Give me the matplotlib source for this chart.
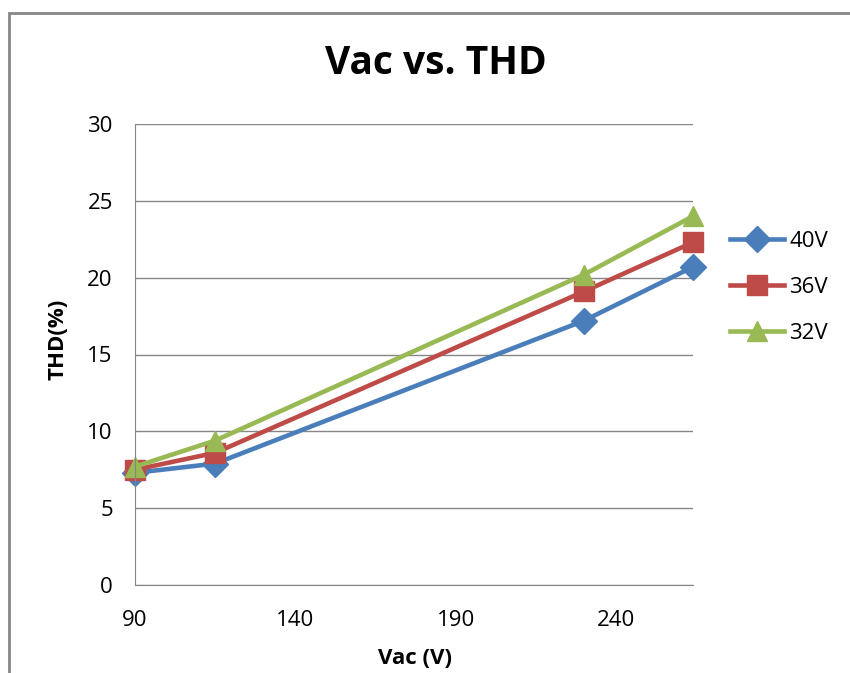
import matplotlib
matplotlib.use("Agg")
import matplotlib.pyplot as plt
from matplotlib.patches import Rectangle

# data
vac = [90, 115, 230, 264]
thd_40v = [7.3, 7.9, 17.2, 20.7]
thd_36v = [7.5, 8.6, 19.1, 22.3]
thd_32v = [7.7, 9.4, 20.2, 24.0]
series_labels = ["40V", "36V", "32V"]
x_ticks = [90, 140, 190, 240]
y_ticks = [0, 5, 10, 15, 20, 25, 30]

plt.rcParams['font.family'] = ['Open Sans', 'DejaVu Sans']

W, H = 850, 673
fig = plt.figure(figsize=(W / 100, H / 100), dpi=100)

# rámeček grafu (styl Excelu), vpravo a dole oříznutý
fig.patches.append(Rectangle((9 / W, -0.1), 1.2, 1 - 13 / H + 0.1,
                             transform=fig.transFigure, fill=False,
                             edgecolor='#868686', lw=2))

left, right, top, bottom = 135, 693, 124, 585
ax = fig.add_axes([left / W, 1 - bottom / H, (right - left) / W, (bottom - top) / H])

styles = [('#4A7EBB', 'D', 13), ('#BE4B48', 's', 14), ('#98B954', '^', 15)]
for ys, lab, (c, m, ms) in zip([thd_40v, thd_36v, thd_32v], series_labels, styles):
    ax.plot(vac, ys, color=c, lw=3.3, marker=m, ms=ms, label=lab, clip_on=False)

ax.set_xlim(90, 264)
ax.set_ylim(0, 30)
ax.set_xticks(x_ticks)
ax.set_yticks(y_ticks)
ax.yaxis.grid(True, color='#868686', lw=1)
ax.set_axisbelow(True)
for s in ['top', 'right']:
    ax.spines[s].set_visible(False)
for s in ['left', 'bottom']:
    ax.spines[s].set_color('#868686')
ax.tick_params(length=0, labelsize=16, colors='black')
ax.tick_params(axis='x', pad=18)
ax.tick_params(axis='y', pad=16)

ax.set_xlabel("Vac (V)", fontsize=16, fontweight='bold')
ax.xaxis.set_label_coords((415 - left) / (right - left), -(658 - bottom) / (bottom - top))
ax.set_ylabel("THD(%)", fontsize=16, fontweight='bold')
ax.yaxis.set_label_coords(-(left - 58) / (right - left), (bottom - 339) / (bottom - top))
ax.xaxis.label.set_va('center')
ax.yaxis.label.set_va('center')

fig.text(436 / W, 1 - 63 / H, "Vac vs. THD", fontsize=28, fontweight='bold',
         ha='center', va='center')

ax.legend(loc='center left', bbox_to_anchor=(1.031, 0.645), frameon=False,
          fontsize=16, handlelength=2.43, labelspacing=1.12, handletextpad=0.22)

fig.savefig("out.png", dpi=100)
